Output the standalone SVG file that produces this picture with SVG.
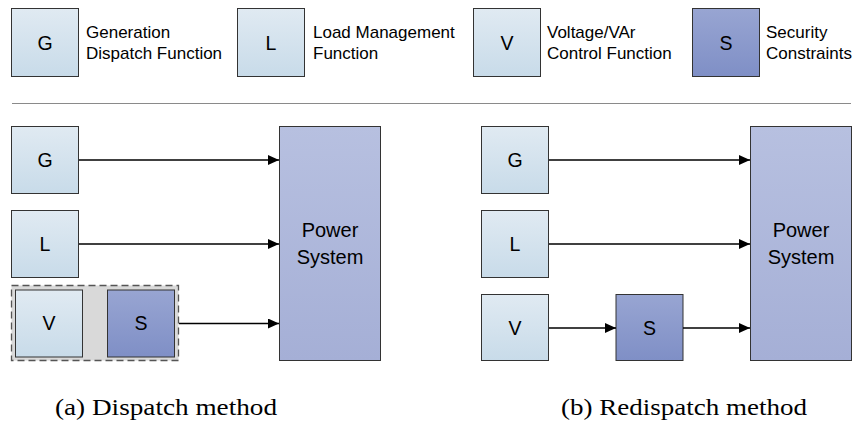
<svg xmlns="http://www.w3.org/2000/svg" width="854" height="422" viewBox="0 0 854 422">
<defs>
<linearGradient id="gLight" x1="0" y1="0" x2="0" y2="1"><stop offset="0" stop-color="#e0eaf2"/><stop offset="1" stop-color="#c8dbe9"/></linearGradient>
<linearGradient id="gDark" x1="0" y1="0" x2="0" y2="1"><stop offset="0" stop-color="#98a5d2"/><stop offset="1" stop-color="#7f8fc6"/></linearGradient>
<linearGradient id="gPow" x1="0" y1="0" x2="0" y2="1"><stop offset="0" stop-color="#b7c0e0"/><stop offset="1" stop-color="#a5afd6"/></linearGradient>
<marker id="arr" markerUnits="userSpaceOnUse" markerWidth="12" markerHeight="10" refX="11" refY="5" orient="auto"><path d="M0,0 L11,5 L0,10 Z" fill="#000"/></marker>
<style>
.lt{fill:url(#gLight);stroke:#333;stroke-width:1}
.dk{fill:url(#gDark);stroke:#333;stroke-width:1}
.pw{fill:url(#gPow);stroke:#333;stroke-width:1}
.lbl{font-family:"Liberation Sans",Arial,sans-serif;font-size:19.5px;fill:#000;text-anchor:middle}
.leg{font-family:"Liberation Sans",Arial,sans-serif;font-size:17px;fill:#000}
.ps{font-family:"Liberation Sans",Arial,sans-serif;font-size:20px;fill:#000;text-anchor:middle}
.cap{font-family:"Liberation Serif","Times New Roman",serif;font-size:23px;fill:#000}
.ln{stroke:#000;stroke-width:1.3;fill:none;marker-end:url(#arr)}
</style>
</defs>
<rect width="854" height="422" fill="#fff"/>
<g id="legend">
<g id="leg-G"><rect class="lt" x="11.5" y="8.5" width="67" height="68"/><text class="lbl" x="45" y="49.5">G</text><text class="leg" x="86" y="37.5">Generation</text><text class="leg" x="86" y="59">Dispatch Function</text></g>
<g id="leg-L"><rect class="lt" x="237.5" y="8.5" width="67" height="68"/><text class="lbl" x="271" y="49.5">L</text><text class="leg" x="313" y="37.5">Load Management</text><text class="leg" x="313" y="59">Function</text></g>
<g id="leg-V"><rect class="lt" x="473.5" y="8.5" width="67" height="68"/><text class="lbl" x="507" y="49.5">V</text><text class="leg" x="547" y="37.5">Voltage/VAr</text><text class="leg" x="547" y="59">Control Function</text></g>
<g id="leg-S"><rect class="dk" x="692.5" y="8.5" width="67" height="68"/><text class="lbl" x="726" y="49.5">S</text><text class="leg" x="766" y="37.5">Security</text><text class="leg" x="766" y="59">Constraints</text></g>
<line x1="12" y1="103.5" x2="851" y2="103.5" stroke="#8a8a8a" stroke-width="1.2"/>
</g>
<g id="a-G"><rect class="lt" x="11.5" y="126.5" width="67" height="67"/><text class="lbl" x="45" y="166.5">G</text></g>
<g id="a-L"><rect class="lt" x="11.5" y="210.5" width="67" height="67"/><text class="lbl" x="45" y="250.5">L</text></g>
<g id="a-VS">
<rect x="11.5" y="285.5" width="167" height="75" fill="#d9d9d9" stroke="#555" stroke-width="1.3" stroke-dasharray="7,4"/>
<g id="a-V"><rect class="lt" x="15.5" y="290" width="67" height="67"/><text class="lbl" x="49" y="330">V</text></g>
<g id="a-S"><rect class="dk" x="107.5" y="290" width="67" height="67"/><text class="lbl" x="141" y="330">S</text></g>
</g>
<g id="a-P"><rect class="pw" x="279.5" y="126.5" width="101" height="234"/><text class="ps" x="330" y="237">Power</text><text class="ps" x="330" y="264">System</text></g>
<g id="b-G"><rect class="lt" x="481.5" y="126.5" width="67" height="67"/><text class="lbl" x="515" y="166.5">G</text></g>
<g id="b-L"><rect class="lt" x="481.5" y="210.5" width="67" height="67"/><text class="lbl" x="515" y="250.5">L</text></g>
<g id="b-V"><rect class="lt" x="481.5" y="294.5" width="67" height="66"/><text class="lbl" x="515" y="334.5">V</text></g>
<g id="b-S"><rect class="dk" x="616" y="294.5" width="67" height="66"/><text class="lbl" x="649.5" y="334.5">S</text></g>
<g id="b-P"><rect class="pw" x="750.5" y="126.5" width="101" height="234"/><text class="ps" x="801" y="237">Power</text><text class="ps" x="801" y="264">System</text></g>
<g id="connectors">
<line class="ln" x1="79" y1="160" x2="279" y2="160"/>
<line class="ln" x1="79" y1="244" x2="279" y2="244"/>
<line class="ln" x1="179" y1="323.5" x2="279" y2="323.5"/>
<line class="ln" x1="549" y1="160" x2="750" y2="160"/>
<line class="ln" x1="549" y1="244" x2="750" y2="244"/>
<line class="ln" x1="549" y1="328" x2="616" y2="328"/>
<line class="ln" x1="683" y1="328" x2="750" y2="328"/>
</g>
<text class="cap" x="55" y="415" textLength="222" lengthAdjust="spacingAndGlyphs">(a) Dispatch method</text>
<text class="cap" x="561" y="415" textLength="246" lengthAdjust="spacingAndGlyphs">(b) Redispatch method</text>
</svg>
